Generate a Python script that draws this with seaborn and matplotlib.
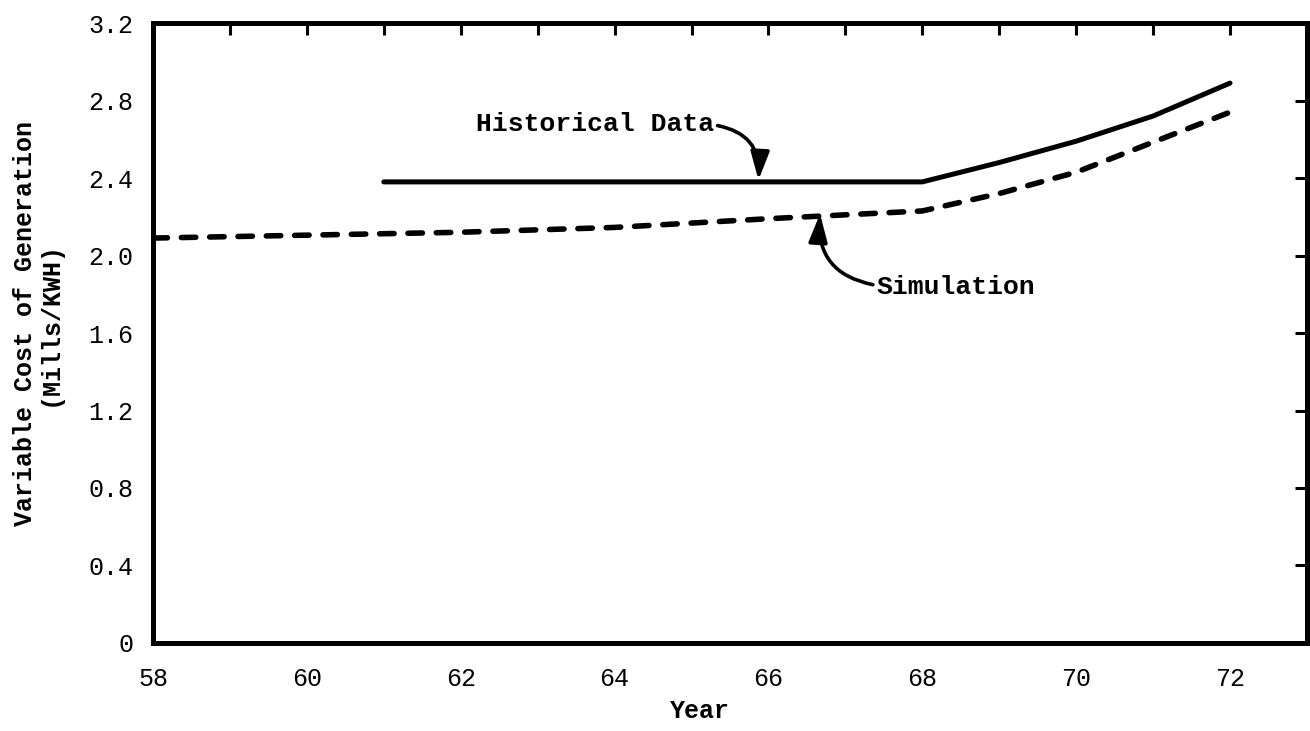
import numpy as np
import pandas as pd
import matplotlib
matplotlib.use("Agg")
import matplotlib.pyplot as plt
import seaborn as sns

# Values
hist_years = [61, 68, 69, 70, 71, 72]
hist_cost = [2.38, 2.38, 2.48, 2.59, 2.72, 2.89]

sim_years = [58, 60, 62, 64, 66, 67, 68, 69, 70, 71, 72]
sim_cost = [2.09, 2.105, 2.12, 2.145, 2.19, 2.21, 2.23, 2.32, 2.43, 2.585, 2.74]

x_major = [58, 60, 62, 64, 66, 68, 70, 72]
x_minor = [59, 61, 63, 65, 67, 69, 71]
y_ticks = [0, 0.4, 0.8, 1.2, 1.6, 2.0, 2.4, 2.8, 3.2]
y_labels = ["0", "0.4", "0.8", "1.2", "1.6", "2.0", "2.4", "2.8", "3.2"]

sns.set_theme(style="white")
plt.rcParams["font.family"] = ["Liberation Mono", "DejaVu Sans Mono"]

hist = pd.DataFrame({"year": hist_years, "cost": hist_cost})
sim = pd.DataFrame({"year": sim_years, "cost": sim_cost})

fig = plt.figure(figsize=(13.1, 7.31), dpi=100)
ax = fig.add_axes([0.1168, 0.1204, 0.8809, 0.8481])

sns.lineplot(data=hist, x="year", y="cost", ax=ax, color="black",
             linewidth=3.6, estimator=None, solid_capstyle="round")
sns.lineplot(data=sim, x="year", y="cost", ax=ax, color="black",
             linewidth=4.0, estimator=None, linestyle=(0, (2.6, 2.5)),
             dash_capstyle="round")

ax.set_xlim(58, 73)
ax.set_ylim(0, 3.2)
ax.set_xticks(x_major)
ax.set_xticks(x_minor, minor=True)
ax.set_yticks(y_ticks)
ax.set_yticklabels(y_labels)

for side in ["left", "right", "top", "bottom"]:
    ax.spines[side].set_visible(True)
    ax.spines[side].set_color("black")
    ax.spines[side].set_linewidth(3.6)

ax.tick_params(axis="both", which="both", direction="in", length=8.5,
               width=2.2, color="black", top=True, right=True,
               labelsize=18, labelcolor="black")
ax.tick_params(axis="x", which="both", pad=17)
ax.tick_params(axis="y", which="both", pad=14)
ax.grid(False)

ax.set_xlabel("Year", fontsize=18, color="black", labelpad=6,
              fontweight="bold")
ax.xaxis.label.set_x(0.474)
ax.set_ylabel("Variable Cost of Generation\n(Mills/KWH)", fontsize=18,
              color="black", labelpad=19, linespacing=1.05,
              fontweight="bold")
ax.yaxis.label.set_y(0.516)

arrow = dict(arrowstyle="-|>,head_length=0.9,head_width=0.3", color="black",
             lw=2.6, shrinkA=0, shrinkB=0)
ax.annotate("Historical Data", xy=(65.87, 2.39), xytext=(62.2, 2.68),
            fontsize=19, color="black", va="center", ha="left",
            fontweight="bold",
            arrowprops=dict(arrow, connectionstyle="arc3,rad=-0.45",
                            relpos=(1.0, 0.45)))
ax.annotate("Simulation", xy=(66.67, 2.215), xytext=(67.4, 1.84),
            fontsize=19, color="black", va="center", ha="left",
            fontweight="bold",
            arrowprops=dict(arrow, connectionstyle="arc3,rad=-0.45",
                            relpos=(0.0, 0.55)))

fig.savefig("out.png", dpi=100)
